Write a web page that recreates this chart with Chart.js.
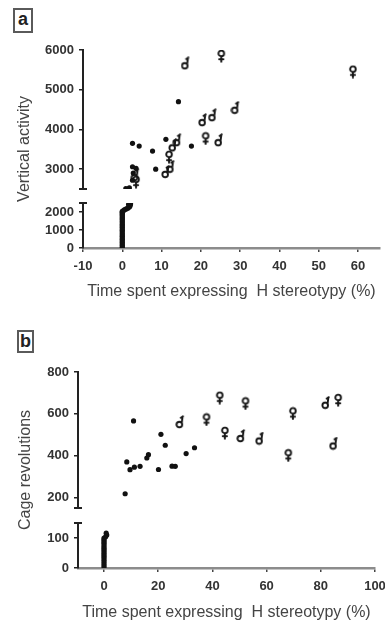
<!DOCTYPE html>
<html>
<head>
<meta charset="utf-8">
<script src="https://cdn.jsdelivr.net/npm/chart.js@4.4.1/dist/chart.umd.min.js"></script>
<style>
  html, body { margin: 0; padding: 0; background: #fff; }
  #wrap { position: relative; width: 385px; height: 624px; overflow: hidden; }
  canvas { position: absolute; left: 0; }
  .tag {
    position: absolute; box-sizing: border-box; border: 2px solid #5a5a5a;
    font: bold 18px "Liberation Sans", Arial, sans-serif; color: #222;
    text-align: center; line-height: 19px; background: #fff;
  }
</style>
</head>
<body>
<div id="wrap">
  <canvas id="chartA" width="385" height="305" style="top:0"></canvas>
  <canvas id="chartB" width="385" height="319" style="top:305px"></canvas>
  <div class="tag" style="left:13px;top:8px;width:20px;height:25px;">a</div>
  <div class="tag" style="left:17px;top:330px;width:17px;height:23px;">b</div>
</div>
<script>
// ---- panel a : vertical activity ----
const dotsA_x = [14.3, 17.6, 11.1, 7.7, 2.6, 4.3, 8.5, 2.6, 3.5, 2.8, 2.6, 0.9, 1.8];
const dotsA_y = [4700, 3580, 3750, 3455, 3650, 3580, 3000, 3060, 3020, 2900, 2720, 2510, 2530];
const femA_x = [25.2, 21.2, 11.9, 3.5, 58.7];
const femA_y = [5850, 3775, 3310, 2680, 5455];
const maleA_x = [16.1, 28.8, 20.5, 23.0, 24.6, 14.0, 12.9, 12.3, 11.1, 3.3];
const maleA_y = [5665, 4545, 4235, 4360, 3730, 3730, 3600, 3060, 2930, 2850];
// animals at ~0 % (lower axis segment)
const zeroA_x = [0, 0, 0, 0, 0, 0, 0, 0, 0, 0, 0, 0, 0, 0, 0, 0, 0, 0, 0, 0, 0, 0, 0, 0, 0, 0, 0, 0.3, 0.6, 1.0, 1.4, 1.8, 2.0, 1.6, 2.1];
const zeroA_y = [0, 60, 150, 230, 320, 400, 480, 560, 650, 720, 800, 900, 980, 1060, 1150, 1230, 1300, 1390, 1470, 1550, 1620, 1700, 1780, 1850, 1920, 1980, 2040, 2080, 2130, 2170, 2210, 2280, 2350, 2420, 2450];
const xTicksA = [-10, 0, 10, 20, 30, 40, 50, 60];
const yTicksA_hi = [3000, 4000, 5000, 6000];
const yTicksA_lo = [0, 1000, 2000];

// ---- panel b : cage revolutions ----
const dotsB_x = [10.9, 21.0, 22.6, 33.4, 30.3, 8.4, 9.6, 11.2, 13.3, 20.1, 25.1, 26.3, 7.8, 16.4, 15.8];
const dotsB_y = [566, 502, 450, 438, 410, 370, 333, 345, 349, 334, 350, 349, 218, 405, 389];
const femB_x = [37.8, 42.7, 44.6, 52.2, 69.7, 86.4, 68.0];
const femB_y = [573, 677, 509, 650, 602, 666, 402];
const maleB_x = [28.1, 50.6, 57.5, 81.9, 84.8];
const maleB_y = [561, 494, 482, 653, 458];
const zeroB_x = [0, 0, 0, 0, 0, 0, 0, 0, 0, 0, 0, 0, 0, 0, 0, 0, 0, 0, 0.6, 1.0, 0.8];
const zeroB_y = [2, 8, 15, 22, 28, 35, 40, 46, 52, 58, 63, 68, 74, 80, 85, 90, 95, 100, 104, 110, 116];
const xTicksB = [0, 20, 40, 60, 80, 100];
const yTicksB_hi = [200, 400, 600, 800];
const yTicksB_lo = [0, 100];

const xTitle = 'Time spent expressing  H stereotypy (%)';
const FONT = '"Liberation Sans", Arial, sans-serif';

function pts(xs, ys) { return xs.map((x, i) => ({ x: x, y: ys[i] })); }

// female / male symbols used as point styles
function sexIcon(kind) {
  const c = document.createElement('canvas');
  c.width = 10; c.height = 14;
  const g = c.getContext('2d');
  g.strokeStyle = '#161616';
  g.lineWidth = 1.9;
  g.lineCap = 'round';
  g.beginPath();
  if (kind === 'f') {
    g.arc(5, 4.4, 2.8, 0, Math.PI * 2);
    g.moveTo(5, 7.3); g.lineTo(5, 12.7);
    g.moveTo(2.9, 10.2); g.lineTo(7.1, 10.2);
  } else {
    g.arc(4.2, 9.5, 2.8, 0, Math.PI * 2);
    g.moveTo(6.6, 7.5); g.lineTo(7.4, 1.8);
    g.moveTo(5.6, 2.7); g.lineTo(7.8, 1.3);
  }
  g.stroke();
  return c;
}
const femIcon = sexIcon('f');
const maleIcon = sexIcon('m');

// draws the caps at the axis break and the rotated y title
const brokenAxis = {
  id: 'brokenAxis',
  afterDraw(chart, args, opts) {
    const { ctx } = chart;
    const hi = chart.scales.yHi, lo = chart.scales.yLo;
    const x = chart.chartArea.left;
    ctx.save();
    ctx.strokeStyle = '#222';
    ctx.lineWidth = 2;
    ctx.beginPath();
    ctx.moveTo(x - 4, hi.bottom); ctx.lineTo(x + 4, hi.bottom);
    ctx.moveTo(x - 4, lo.top); ctx.lineTo(x + 4, lo.top);
    ctx.stroke();
    ctx.translate(opts.x, (chart.chartArea.top + chart.chartArea.bottom) / 2);
    ctx.rotate(-Math.PI / 2);
    ctx.fillStyle = '#444';
    ctx.font = '16px ' + FONT;
    ctx.textAlign = 'center';
    ctx.textBaseline = 'middle';
    ctx.fillText(opts.text, 0, 0);
    ctx.restore();
  }
};

function yScale(min, max, ticks, weight, stackWeight) {
  return {
    type: 'linear', position: 'left', stack: 'y', weight: weight, stackWeight: stackWeight,
    min: min, max: max,
    afterBuildTicks: s => { s.ticks = ticks.map(v => ({ value: v })); },
    afterFit: s => { s.width = s.chart.options.plugins.brokenAxis.axisX; },
    border: { display: true, color: '#222', width: 2 },
    grid: { drawOnChartArea: false, color: '#222', tickLength: 4, lineWidth: 1.5 },
    ticks: {
      padding: 5, color: '#333', autoSkip: false,
      font: { family: FONT, size: 13, weight: 'bold' },
      callback: v => String(v)
    }
  };
}

function makeChart(id, cfg) {
  return new Chart(document.getElementById(id), {
    type: 'scatter',
    data: {
      datasets: [
        { data: pts(cfg.dots[0], cfg.dots[1]), yAxisID: 'yHi', pointStyle: 'circle', pointRadius: 2.6, backgroundColor: '#111', borderWidth: 0 },
        { data: pts(cfg.zero[0], cfg.zero[1]), yAxisID: 'yLo', pointStyle: 'circle', pointRadius: 2.6, backgroundColor: '#111', borderWidth: 0 },
        { data: pts(cfg.fem[0], cfg.fem[1]), yAxisID: 'yHi', pointStyle: femIcon },
        { data: pts(cfg.male[0], cfg.male[1]), yAxisID: 'yHi', pointStyle: maleIcon }
      ]
    },
    options: {
      responsive: false,
      animation: false,
      layout: { padding: { left: 0, top: cfg.top, right: cfg.right, bottom: 0 } },
      plugins: {
        legend: { display: false },
        tooltip: { enabled: false },
        brokenAxis: { x: cfg.titleX, text: cfg.yTitle, axisX: cfg.axisX }
      },
      scales: {
        x: {
          type: 'linear', position: 'bottom', min: cfg.xMin, max: cfg.xMax,
          afterBuildTicks: s => { s.ticks = cfg.xTicks.map(v => ({ value: v })); },
          afterFit: s => { s.height = cfg.xHeight; s.paddingRight = 0; s.paddingLeft = 0; },
          border: { display: true, color: '#8c8c8c', width: 2.5 },
          grid: { drawOnChartArea: false, color: '#444', tickLength: 4, lineWidth: 1.5 },
          ticks: { padding: 7, color: '#333', autoSkip: false, font: { family: FONT, size: 13, weight: 'bold' } },
          title: {
            display: true, text: xTitle, color: '#444',
            font: { family: FONT, size: 16 }, padding: { top: 6, bottom: cfg.titlePad }
          }
        },
        yHi: yScale(cfg.hi[0], cfg.hi[1], cfg.hi[2], 3, cfg.hi[3]),
        yGap: { type: 'linear', position: 'left', stack: 'y', weight: 2, stackWeight: cfg.gap, min: 0, max: 1, display: false },
        yLo: yScale(cfg.lo[0], cfg.lo[1], cfg.lo[2], 1, cfg.lo[3])
      }
    },
    plugins: [brokenAxis]
  });
}

makeChart('chartA', {
  dots: [dotsA_x, dotsA_y], zero: [zeroA_x, zeroA_y], fem: [femA_x, femA_y], male: [maleA_x, maleA_y],
  xMin: -10, xMax: 65.6, xTicks: xTicksA, xHeight: 57, titlePad: 4,
  hi: [2500, 6000, yTicksA_hi, 139], lo: [0, 2500, yTicksA_lo, 45], gap: 14,
  top: 50, right: 3, axisX: 83, titleX: 25, yTitle: 'Vertical activity'
});

makeChart('chartB', {
  dots: [dotsB_x, dotsB_y], zero: [zeroB_x, zeroB_y], fem: [femB_x, femB_y], male: [maleB_x, maleB_y],
  xMin: -9.6, xMax: 100, xTicks: xTicksB, xHeight: 56, titlePad: 2,
  hi: [150, 800, yTicksB_hi, 136], lo: [0, 150, yTicksB_lo, 45], gap: 15,
  top: 67, right: 10, axisX: 78, titleX: 26, yTitle: 'Cage revolutions'
});
</script>
</body>
</html>
